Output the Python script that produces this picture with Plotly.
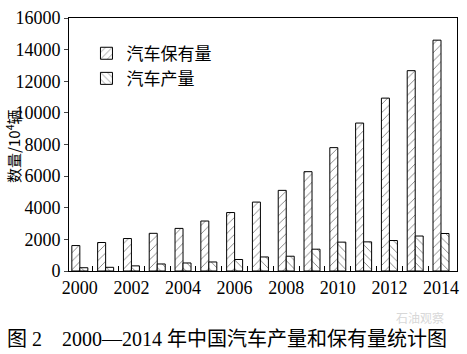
import plotly.graph_objects as go

years = list(range(2000, 2015))
stock = [1609, 1802, 2053, 2383, 2694, 3160, 3697, 4358, 5100, 6281, 7802, 9356, 10933, 12670, 14598]
production = [207, 234, 325, 444, 507, 571, 728, 888, 934, 1379, 1826, 1842, 1927, 2212, 2372]
name_stock = "汽车保有量"
name_prod = "汽车产量"
y_ticks = [0, 2000, 4000, 6000, 8000, 10000, 12000, 14000, 16000]
x_labels = [2000, 2002, 2004, 2006, 2008, 2010, 2012, 2014]

SERIF = "'Liberation Serif', 'Times New Roman', 'DejaVu Serif', serif"
CJK = "'Noto Sans CJK SC'"

fig = go.Figure()
fig.add_trace(go.Bar(
    x=years, y=stock, name=name_stock,
    marker=dict(color="white", line=dict(color="black", width=1),
                pattern=dict(shape="/", fgcolor="black", bgcolor="white", size=6, solidity=0.15)),
))
fig.add_trace(go.Bar(
    x=years, y=production, name=name_prod,
    marker=dict(color="white", line=dict(color="black", width=1),
                pattern=dict(shape="\\", fgcolor="black", bgcolor="white", size=6, solidity=0.15)),
))

fig.update_layout(
    width=467, height=354,
    margin=dict(l=69, r=8, t=11, b=83),
    paper_bgcolor="white", plot_bgcolor="white",
    barmode="group", bargap=0.38, bargroupgap=0,
    font=dict(family=SERIF, size=16, color="black"),
    showlegend=True,
    legend=dict(x=0.045, y=0.93, xanchor="left", yanchor="top",
                bgcolor="rgba(0,0,0,0)", font=dict(size=17, family=CJK),
                tracegroupgap=8, itemwidth=30),
    xaxis=dict(range=[1999.58, 2014.62], tickvals=x_labels, ticktext=[str(v) for v in x_labels],
               ticks="", showline=True, linecolor="black", linewidth=1, mirror=True,
               showgrid=False, zeroline=False, tickfont=dict(size=18, family=SERIF),
               minor=dict(tickvals=[y + 0.5 for y in years[:-1]], ticks="inside", ticklen=5,
                          tickcolor="black", showgrid=False)),
    yaxis=dict(range=[0, 16000], tickvals=y_ticks, ticktext=[str(v) for v in y_ticks],
               ticks="outside", ticklen=4,
               showline=True, linecolor="black", linewidth=1, mirror=True,
               showgrid=False, zeroline=False, tickfont=dict(size=18, family=SERIF)),
)

fig.add_annotation(
    text="数量/10<sup>4</sup>辆", textangle=-90,
    xref="paper", yref="paper", x=-0.146, y=0.492, xanchor="center", yanchor="middle",
    showarrow=False, font=dict(size=15, family=CJK))
fig.add_annotation(
    text="图 2　2000—2014 年中国汽车产量和保有量统计图",
    xref="paper", yref="paper", x=-0.164, y=-0.269, xanchor="left", yanchor="middle",
    showarrow=False, font=dict(size=20, family=SERIF + ", " + CJK))
fig.add_annotation(
    text="石油观察",
    xref="paper", yref="paper", x=0.972, y=-0.183, xanchor="right", yanchor="middle",
    showarrow=False, font=dict(size=12, color="#d8d8d8", family=CJK))

fig.write_html("out.html")
